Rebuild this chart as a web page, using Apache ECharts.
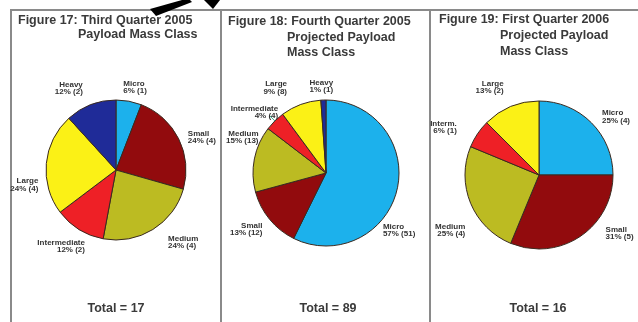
<!DOCTYPE html>
<html>
<head>
<meta charset="utf-8">
<script src="https://cdn.jsdelivr.net/npm/echarts@6/dist/echarts.min.js"></script>
<style>
  html, body { margin: 0; padding: 0; background: #fff; }
  #chart { width: 638px; height: 322px; }
</style>
</head>
<body>
<div id="chart"></div>
<script>
// Payload mass classes, clockwise from 12 o'clock
const categories = ['Micro', 'Small', 'Medium', 'Intermediate', 'Large', 'Heavy'];
const classColors = ['#1cb1ec', '#920b0d', '#bcbb22', '#ee2026', '#fbf116', '#1f2b98'];

// Payload counts per quarter
const q3_2005 = [1, 4, 4, 2, 4, 2];
const q4_2005 = [51, 12, 13, 4, 8, 1];
const q1_2006 = [4, 5, 4, 1, 2, 0];

// Short label used in the 2006 chart
const q1_2006Names = ['Micro', 'Small', 'Medium', 'Interm.', 'Large', 'Heavy'];

const figureTitles = [
  ['Figure 17: Third Quarter 2005', 'Payload Mass Class'],
  ['Figure 18: Fourth Quarter 2005', 'Projected Payload', 'Mass Class'],
  ['Figure 19: First Quarter 2006', 'Projected Payload', 'Mass Class']
];

const chart = echarts.init(document.getElementById('chart'), null, { renderer: 'canvas' });

const FONT = '"Liberation Sans", Arial, sans-serif';

function sum(arr) { return arr.reduce((a, b) => a + b, 0); }

function buildData(values, names) {
  return values
    .map((v, i) => ({
      name: names[i],
      value: v,
      itemStyle: { color: classColors[i] }
    }))
    .filter(d => d.value > 0);
}

// Small label offsets (dx, dy) per slice, keeping labels clear of each other
const labelNudges = [
  [[-12, -6], [-3, 2], [6, 6], [15, 10], [5, 22], [0, -9]],
  [[-27, 39], [4, 5], [17, -20], [14, -3], [-6, -9], [15, -6]],
  [[0, 0], [16, -10], [7, 24], [-9, -2], [1, -12]]
];

function pieSeries(values, names, center, radius, nudges, lineIdx) {
  const total = sum(values);
  const data = buildData(values, names);
  if (lineIdx != null) {
    data[lineIdx].labelLine = { show: true, lineStyle: { color: '#3aa88c', width: 1 } };
  }
  return {
    type: 'pie',
    center: center,
    radius: radius,
    startAngle: 90,
    clockwise: true,
    avoidLabelOverlap: false,
    animation: false,
    itemStyle: { borderColor: '#3a2a20', borderWidth: 1 },
    label: {
      show: true,
      position: 'outside',
      fontFamily: FONT,
      fontWeight: 'bold',
      fontSize: 8,
      lineHeight: 7.5,
      color: '#333',
      formatter: p => p.name + '\n' + Math.round(p.value / total * 100) + '% (' + p.value + ')'
    },
    labelLine: { show: false, length: 8, length2: 0 },
    labelLayout: function (params) {
      const n = nudges[params.dataIndex] || [0, 0];
      return { dx: n[0], dy: n[1] };
    },
    emphasis: { disabled: true },
    data: data
  };
}

const titleStyle = { fontFamily: FONT, fontWeight: 'bold', fontSize: 12.5, color: '#3a3a3a' };
const totalStyle = { fontFamily: FONT, fontWeight: 'bold', fontSize: 12.5, color: '#3a3a3a' };

const titlePos = [
  [[18, 14], [78, 28]],
  [[228, 15], [287, 31], [287, 46]],
  [[439, 13], [500, 29], [500, 45]]
];

const titles = [];
figureTitles.forEach((lines, f) => {
  lines.forEach((t, j) => {
    titles.push({ text: t, left: titlePos[f][j][0], top: titlePos[f][j][1], padding: 0, textStyle: titleStyle });
  });
});

const totals = [sum(q3_2005), sum(q4_2005), sum(q1_2006)];
const totalCenters = [116, 328, 538];
totals.forEach((t, i) => {
  titles.push({ text: 'Total = ' + t, left: totalCenters[i], top: 302, padding: 0, textAlign: 'center', textStyle: totalStyle });
});

const panelLine = { stroke: '#8a8a8a', lineWidth: 2 };

chart.setOption({
  backgroundColor: '#ffffff',
  title: titles,
  graphic: [
    // panel frames
    { type: 'line', shape: { x1: 10, y1: 10, x2: 638, y2: 10 }, style: panelLine, silent: true },
    { type: 'line', shape: { x1: 11, y1: 10, x2: 11, y2: 322 }, style: panelLine, silent: true },
    { type: 'line', shape: { x1: 221, y1: 10, x2: 221, y2: 322 }, style: panelLine, silent: true },
    { type: 'line', shape: { x1: 430, y1: 10, x2: 430, y2: 322 }, style: panelLine, silent: true },
    // callout arrow across the top edge
    { type: 'polygon', shape: { points: [[150, 9], [156, 16], [192, 2], [190, 0], [182, 0]] }, style: { fill: '#000' }, silent: true },
    { type: 'polygon', shape: { points: [[204, 0], [220, 0], [213, 9]] }, style: { fill: '#000' }, silent: true }
  ],
  series: [
    pieSeries(q3_2005, categories, [116, 170], 70, labelNudges[0], null),
    pieSeries(q4_2005, categories, [326, 173], 73, labelNudges[1], 3),
    pieSeries(q1_2006, q1_2006Names, [539, 175], 74, labelNudges[2], null)
  ]
});
</script>
</body>
</html>
